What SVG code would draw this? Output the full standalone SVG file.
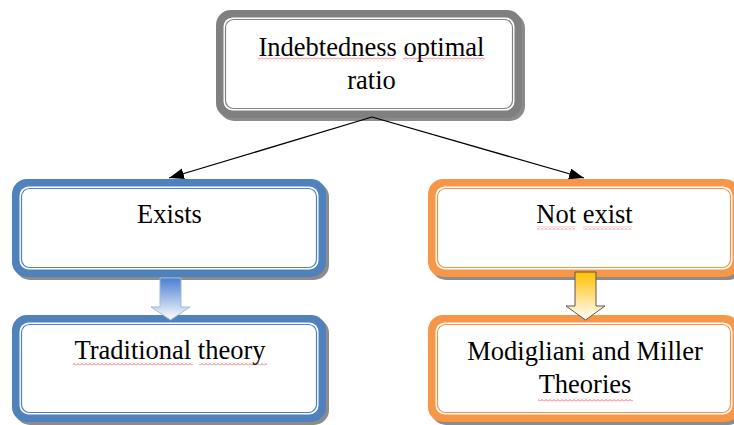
<svg xmlns="http://www.w3.org/2000/svg" width="734" height="425" viewBox="0 0 734 425">
<style>
.t{font-family:"Liberation Serif","Times New Roman",serif;font-size:26.5px;fill:#000;text-anchor:middle}
.sh{fill:#8c8c8c}
.in{fill:#fff}
.con{stroke:#000;stroke-width:1.3;fill:none}
</style>
<defs>
<marker id="ah" markerUnits="userSpaceOnUse" markerWidth="16" markerHeight="12" refX="15" refY="5.5" orient="auto">
<path d="M0,0 L15,5.5 L0,11 z" fill="#000"/>
</marker>
<linearGradient id="gb" x1="0" y1="0" x2="0" y2="1">
<stop offset="0" stop-color="#4a7fd0"/>
<stop offset="1" stop-color="#ffffff"/>
</linearGradient>
<linearGradient id="go" x1="0" y1="0" x2="0" y2="1">
<stop offset="0" stop-color="#ffc000"/>
<stop offset="1" stop-color="#ffffff"/>
</linearGradient>
<pattern id="squig" patternUnits="userSpaceOnUse" width="4" height="3">
<path d="M0,2.5 L2,0.5 L4,2.5" fill="none" stroke="#e03030" stroke-width="0.7"/>
</pattern>
</defs>

<g id="node-top">
<rect class="sh" x="219" y="13" width="306" height="108" rx="15"/>
<rect x="216" y="10" width="306" height="108" rx="15" fill="#808080"/>
<rect class="in" x="223.5" y="17.5" width="291" height="93" rx="9"/>
<rect x="225.5" y="19.5" width="287" height="89" rx="8" fill="#fff" stroke="#808080" stroke-width="1.2"/>
<text class="t" x="371.5" y="56">Indebtedness optimal</text>
<text class="t" x="371.5" y="89">ratio</text>
<rect x="258" y="57.5" width="137" height="3" fill="url(#squig)"/>
<rect x="403" y="57.5" width="82" height="3" fill="url(#squig)"/>
</g>

<g id="node-exists">
<rect class="sh" x="15" y="182" width="314" height="98" rx="15"/>
<rect x="12" y="179" width="314" height="98" rx="15" fill="#4f81bd"/>
<rect class="in" x="19.5" y="186.5" width="299" height="83" rx="9"/>
<rect x="21.5" y="188.5" width="295" height="79" rx="8" fill="#fff" stroke="#4f81bd" stroke-width="1.2"/>
<text class="t" x="169.5" y="223">Exists</text>
</g>

<g id="node-traditional">
<rect class="sh" x="15" y="318" width="314" height="107" rx="15"/>
<rect x="12" y="315" width="314" height="107" rx="15" fill="#4f81bd"/>
<rect class="in" x="19.5" y="322.5" width="299" height="92" rx="9"/>
<rect x="21.5" y="324.5" width="295" height="88" rx="8" fill="#fff" stroke="#4f81bd" stroke-width="1.2"/>
<text class="t" x="170" y="359">Traditional theory</text>
<rect x="73" y="362.5" width="120" height="3" fill="url(#squig)"/>
<rect x="199" y="362.5" width="68" height="3" fill="url(#squig)"/>
</g>

<g id="node-notexist">
<rect class="sh" x="431" y="182" width="312" height="98" rx="15"/>
<rect x="428" y="179" width="312" height="98" rx="15" fill="#f79646"/>
<rect class="in" x="435.5" y="186.5" width="297" height="83" rx="9"/>
<rect x="437.5" y="188.5" width="293" height="79" rx="8" fill="#fff" stroke="#f79646" stroke-width="1.2"/>
<text class="t" x="584.5" y="223">Not exist</text>
<rect x="537" y="226.5" width="38" height="3" fill="url(#squig)"/>
<rect x="583" y="226.5" width="49" height="3" fill="url(#squig)"/>
</g>

<g id="node-mm">
<rect class="sh" x="431" y="318" width="312" height="107" rx="15"/>
<rect x="428" y="315" width="312" height="107" rx="15" fill="#f79646"/>
<rect class="in" x="435.5" y="322.5" width="297" height="92" rx="9"/>
<rect x="437.5" y="324.5" width="293" height="88" rx="8" fill="#fff" stroke="#f79646" stroke-width="1.2"/>
<text class="t" x="585" y="360">Modigliani and Miller</text>
<text class="t" x="585" y="393">Theories</text>
<rect x="538" y="398.5" width="95" height="3" fill="url(#squig)"/>
</g>

<g id="connectors">
<line class="con" x1="372" y1="117" x2="169" y2="178" marker-end="url(#ah)"/>
<line class="con" x1="372" y1="117" x2="584" y2="178" marker-end="url(#ah)"/>
<path id="arrow-left" d="M160,278 H181 V307 H190 L170.5,320 L151,307 H160 Z" fill="url(#gb)" stroke="#9db8dc" stroke-width="1"/>
<path id="arrow-right" d="M575,272 H596 V306 H605 L585.5,320 L566,306 H575 Z" fill="url(#go)" stroke="#595959" stroke-width="1"/>
</g>
</svg>
